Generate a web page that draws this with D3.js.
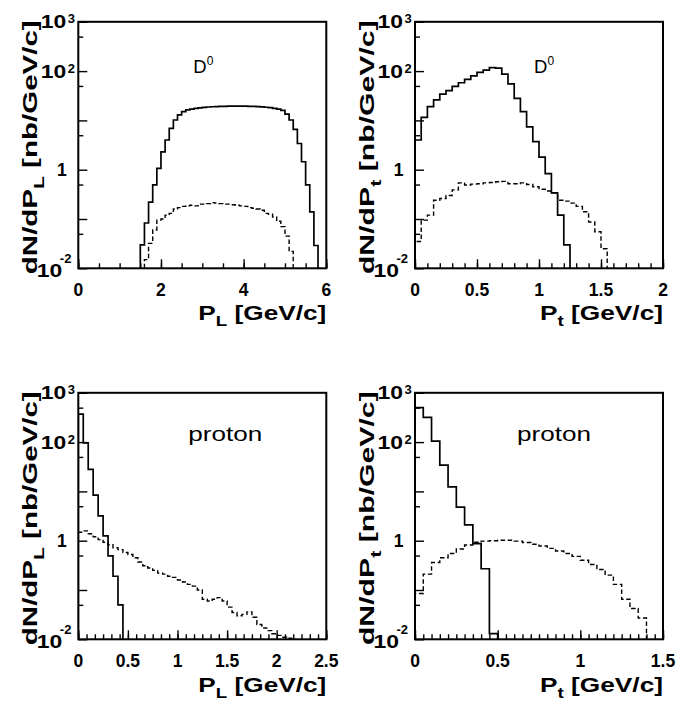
<!DOCTYPE html>
<html><head><meta charset="utf-8">
<script src="https://cdn.jsdelivr.net/npm/d3@7/dist/d3.min.js"></script>
<style>body{margin:0;background:#fff}svg{display:block}</style>
</head><body>
<svg id="c" width="677" height="704"></svg>
<script>
// ---------------- data ----------------
const yDomain = [1e-2, 1e3];
const yMajorTicks = [1e-2, 1e-1, 1, 1e1, 1e2, 1e3];
const yMinorTicks = [5e-2, 5e-1, 5, 5e1, 5e2];
const yLabelValues = [1e-2, 1, 1e2, 1e3];
const yLabelBases = ["10", "1", "10", "10"];
const yLabelExps = ["-2", "", "2", "3"];

// D0 longitudinal momentum
const d0PlSolidStart = 1.5, d0PlSolidBin = 0.1;
const d0PlSolid = [0.03, 0.083, 0.22, 0.49, 1.06, 2.3, 4.0, 6.9, 10.2, 12.9,
  15, 16.3, 17.0, 17.6, 18.0, 18.4, 18.7, 18.9, 19.1, 19.2,
  19.3, 19.4, 19.4, 19.5, 19.5, 19.4, 19.3, 19.2, 19.0, 18.8,
  18.5, 18.1, 17.6, 16.9, 16.0, 13.4, 10.2, 6.6, 3.4, 1.45,
  0.49, 0.14, 0.029];
const d0PlDashedStart = 1.6, d0PlDashedBin = 0.1;
const d0PlDashed = [0.015, 0.032, 0.06, 0.095, 0.10, 0.12, 0.13, 0.16, 0.17, 0.18,
  0.185, 0.19, 0.185, 0.2, 0.2, 0.205, 0.215, 0.21, 0.205, 0.2,
  0.2, 0.195, 0.19, 0.185, 0.18, 0.17, 0.165, 0.16, 0.15, 0.13,
  0.125, 0.11, 0.09, 0.07, 0.045, 0.022];

// D0 transverse momentum
const d0PtSolidStart = 0, d0PtSolidBin = 0.05;
const d0PtSolid = [4.0, 11.5, 19, 26, 34, 40, 49, 58, 68, 80,
  94, 105, 118, 115, 87, 55, 28, 15, 7.4, 3.7,
  1.8, 0.83, 0.34, 0.12, 0.03];
const d0PtDashedStart = 0, d0PtDashedBin = 0.05;
const d0PtDashed = [0.035, 0.095, 0.12, 0.24, 0.26, 0.30, 0.39, 0.54, 0.49, 0.51,
  0.52, 0.54, 0.55, 0.57, 0.58, 0.52, 0.52, 0.54, 0.50, 0.45,
  0.40, 0.37, 0.34, 0.24, 0.23, 0.21, 0.18, 0.14, 0.087, 0.055,
  0.025];

// proton longitudinal momentum
const pPlSolidStart = 0, pPlSolidBin = 0.05;
const pPlSolid = [370, 96, 28, 8.4, 3.2, 1.25, 0.49, 0.19, 0.05];
const pPlDashedStart = 0, pPlDashedBin = 0.05;
const pPlDashed = [1.48, 1.58, 1.38, 1.20, 1.05, 0.93, 0.83, 0.72, 0.66, 0.575,
  0.525, 0.45, 0.37, 0.31, 0.28, 0.25, 0.22, 0.21, 0.19, 0.18,
  0.16, 0.145, 0.13, 0.12, 0.10, 0.065, 0.06, 0.065, 0.07, 0.06,
  0.045, 0.035, 0.03, 0.032, 0.036, 0.028, 0.02, 0.017, 0.015, 0.013,
  0.012, 0.011, 0.0105];

// proton transverse momentum
const pPtSolidStart = 0, pPtSolidBin = 0.05;
const pPtSolid = [500, 318, 105, 34, 12.4, 4.8, 2.1, 0.87, 0.27, 0.013];
const pPtDashedStart = 0, pPtDashedBin = 0.05;
const pPtDashed = [0.085, 0.21, 0.36, 0.45, 0.55, 0.68, 0.82, 0.93, 0.98, 1.0,
  1.02, 1.02, 0.98, 0.92, 0.85, 0.78, 0.70, 0.62, 0.55, 0.48,
  0.40, 0.33, 0.26, 0.2, 0.13, 0.065, 0.042, 0.027];

// axes
const xMaxes = [6, 2, 2.5, 1.5];
const xMajorTicks = [[0, 2, 4, 6], [0, 0.5, 1, 1.5, 2], [0, 0.5, 1, 1.5, 2, 2.5], [0, 0.5, 1, 1.5]];
const xTickLabels = [["0", "2", "4", "6"], ["0", "0.5", "1", "1.5", "2"], ["0", "0.5", "1", "1.5", "2", "2.5"], ["0", "0.5", "1", "1.5"]];
const xMinorSteps = [0.5, 0.1, 0.5 / 6, 0.05];
const axisSubs = ["L", "t", "L", "t"];
const particleNames = ["D", "D", "proton", "proton"];

// ---------------- layout ----------------
const FONT = "'Liberation Sans', Arial, Helvetica, sans-serif";
const PW = 248, PH = 246.5;
const panelOrigins = [[78.3, 21.8], [415, 21.8], [78.3, 392.8], [415, 392.8]];
const titleLen = [128, 123, 128, 123];

const solidSets = [[d0PlSolid, d0PlSolidStart, d0PlSolidBin], [d0PtSolid, d0PtSolidStart, d0PtSolidBin],
  [pPlSolid, pPlSolidStart, pPlSolidBin], [pPtSolid, pPtSolidStart, pPtSolidBin]];
const dashedSets = [[d0PlDashed, d0PlDashedStart, d0PlDashedBin], [d0PtDashed, d0PtDashedStart, d0PtDashedBin],
  [pPlDashed, pPlDashedStart, pPlDashedBin], [pPtDashed, pPtDashedStart, pPtDashedBin]];

const svg = d3.select("#c");

function fitX(textSel, target) {
  const w = textSel.node().getComputedTextLength();
  if (w > 0) textSel.attr("transform", `scale(${target / w},1)`);
}

function histPoints(vals, start, bw) {
  const pts = [[start, null]];
  vals.forEach((v, i) => { pts.push([start + i * bw, v]); pts.push([start + (i + 1) * bw, v]); });
  pts.push([start + vals.length * bw, null]);
  return pts;
}

panelOrigins.forEach(([L, T], p) => {
  const g = svg.append("g");
  const x = d3.scaleLinear().domain([0, xMaxes[p]]).range([L, L + PW]);
  const y = d3.scaleLog().domain(yDomain).range([T + PH, T]).clamp(true);

  const clipId = "clip" + p;
  svg.append("clipPath").attr("id", clipId).append("rect")
    .attr("x", L).attr("y", T).attr("width", PW).attr("height", PH);

  const styleTicks = s => { s.select(".domain").remove(); s.selectAll("line").attr("stroke", "#000").attr("stroke-width", 1.4); };
  const minors = d3.range(0, xMaxes[p] + 1e-9, xMinorSteps[p]);
  g.append("g").attr("transform", `translate(0,${T + PH})`)
    .call(d3.axisBottom(x).tickValues(minors).tickSize(-5).tickFormat("")).call(styleTicks);
  g.append("g").attr("transform", `translate(0,${T + PH})`)
    .call(d3.axisBottom(x).tickValues(xMajorTicks[p]).tickSize(-9).tickFormat("")).call(styleTicks);
  g.append("g").attr("transform", `translate(${L},0)`)
    .call(d3.axisLeft(y).tickValues(yMinorTicks).tickSize(-5).tickFormat("")).call(styleTicks);
  g.append("g").attr("transform", `translate(${L},0)`)
    .call(d3.axisLeft(y).tickValues(yMajorTicks).tickSize(-9).tickFormat("")).call(styleTicks);

  // histograms
  const line = d3.line().x(d => x(d[0])).y(d => d[1] == null ? y(yDomain[0]) : y(d[1]));
  const hg = g.append("g").attr("clip-path", `url(#${clipId})`);
  const [dv, ds, db] = dashedSets[p];
  hg.append("path").attr("d", line(histPoints(dv, ds, db)))
    .attr("fill", "none").attr("stroke", "#000").attr("stroke-width", 1.4)
    .attr("stroke-dasharray", "4.5,2.6");
  const [sv, ss, sb] = solidSets[p];
  hg.append("path").attr("d", line(histPoints(sv, ss, sb)))
    .attr("fill", "none").attr("stroke", "#000").attr("stroke-width", 1.7);

  // frame
  g.append("rect").attr("x", L).attr("y", T).attr("width", PW).attr("height", PH)
    .attr("fill", "none").attr("stroke", "#000").attr("stroke-width", 2);

  // x tick labels
  xMajorTicks[p].forEach((v, i) => {
    g.append("text").attr("x", x(v)).attr("y", T + PH + 28)
      .attr("text-anchor", "middle").attr("font-family", FONT).attr("font-weight", "bold")
      .attr("font-size", 17.5).text(xTickLabels[p][i]);
  });

  // y tick labels
  yLabelValues.forEach((v, i) => {
    const yy = y(v);
    const base = yLabelBases[i], ex = yLabelExps[i];
    if (!ex) {
      g.append("text").attr("x", L - 11.5).attr("y", yy + 6.5).attr("text-anchor", "end")
        .attr("font-family", FONT).attr("font-weight", "bold").attr("font-size", 17.5).text(base);
      return;
    }
    const low = v === yDomain[0];
    const bg = g.append("g").attr("transform", `translate(${low ? L - 16 : L - 12},${yy + (low ? 9 : 6.5)})`);
    const bt = bg.append("text").attr("text-anchor", "end").attr("font-family", FONT)
      .attr("font-weight", "bold").attr("font-size", 17.5).text(base);
    fitX(bt, 25.5);
    g.append("text").attr("x", low ? L - 18.5 : L - 10.5).attr("y", yy + (low ? -5 : 1.5))
      .attr("font-family", FONT).attr("font-weight", "bold").attr("font-size", 13).text(ex);
  });

  // x title
  const xg = g.append("g").attr("transform", `translate(${L + PW},${T + PH + (p < 2 ? 51.5 : 53)})`);
  const xt = xg.append("text").attr("text-anchor", "end").attr("font-family", FONT)
    .attr("font-weight", "bold").attr("font-size", 21);
  xt.append("tspan").text("P");
  xt.append("tspan").attr("font-size", 15).attr("dy", 6).text(axisSubs[p]);
  xt.append("tspan").attr("dy", -6).text(" [GeV/c]");
  fitX(xt, titleLen[p]);

  // y title
  const yg = g.append("g").attr("transform", `translate(${L - 41},${T - 1.5}) rotate(-90)`);
  const yt = yg.append("text").attr("text-anchor", "end").attr("font-family", FONT)
    .attr("font-weight", "bold").attr("font-size", 21);
  yt.append("tspan").text("dN/dP");
  yt.append("tspan").attr("font-size", 15).attr("dy", 7).text(axisSubs[p]);
  yt.append("tspan").attr("dy", -7).text(" [nb/GeV/c]");
  fitX(yt, 254);

  // particle label
  if (particleNames[p] === "D") {
    const lx = L + (p === 0 ? 115 : 119);
    const dt = g.append("text").attr("x", lx).attr("y", T + 51).attr("font-family", FONT)
      .attr("font-size", 18.5);
    dt.append("tspan").text("D");
    dt.append("tspan").attr("font-size", 12).attr("dy", -8).text("0");
  } else {
    const lg = g.append("g").attr("transform", `translate(${L + (p === 2 ? 110 : 102)},${T + 48.5})`);
    const pt = lg.append("text").attr("font-family", FONT).attr("font-size", 21).text(particleNames[p]);
    fitX(pt, 74);
  }
});
</script>
</body></html>
